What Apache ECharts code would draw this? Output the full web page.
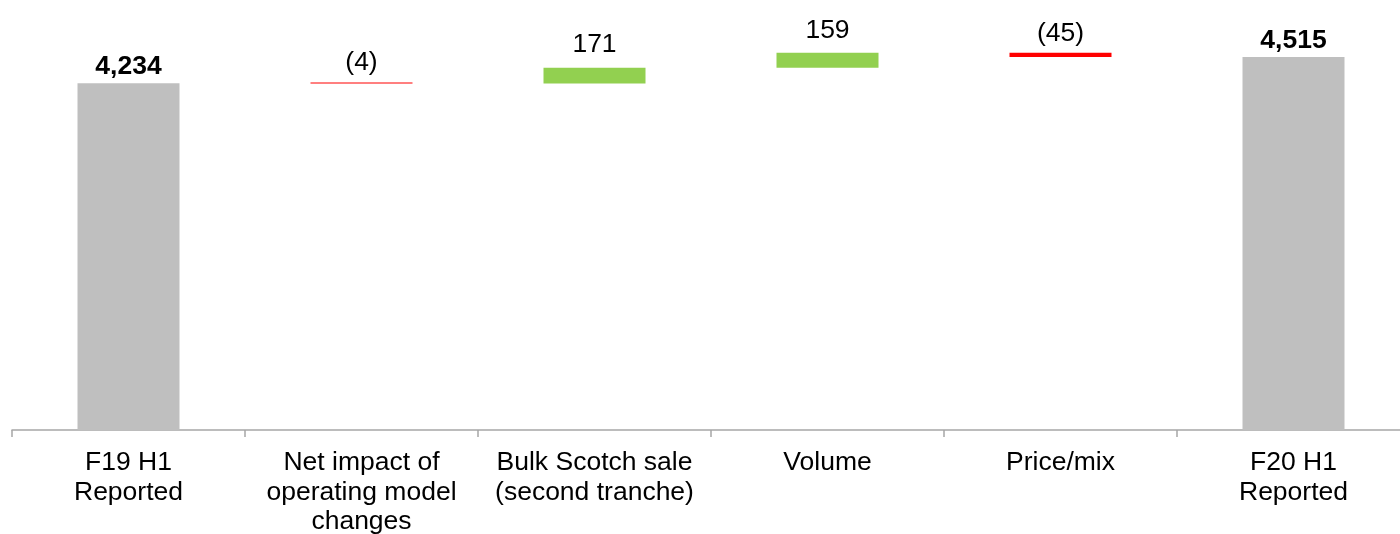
<!DOCTYPE html>
<html>
<head>
<meta charset="utf-8">
<script src="https://cdn.jsdelivr.net/npm/echarts@6/dist/echarts.min.js"></script>
<style>
  html, body { margin: 0; padding: 0; background: #fff; }
  #chart { width: 1400px; height: 534px; }
</style>
</head>
<body>
<div id="chart"></div>
<script>
// Bridge categories and movements
const categories = [
  'F19 H1\nReported',
  'Net impact of\noperating model\nchanges',
  'Bulk Scotch sale\n(second tranche)',
  'Volume',
  'Price/mix',
  'F20 H1\nReported'
];
const values = [4234, -4, 171, 159, -45, 4515];
const isTotal = [true, false, false, false, false, true];

const colorTotal = '#bfbfbf';
const colorUp = '#92d050';
const colorDown = '#ff0000';

// Build invisible base + visible segment for each step of the bridge
const base = [];
const visible = [];
let running = 0;
values.forEach((v, i) => {
  if (isTotal[i]) {
    base.push(0);
    visible.push(v);
    running = v;
  } else {
    base.push(v >= 0 ? running : running + v);
    visible.push(Math.abs(v));
    running += v;
  }
});

function fmt(v) {
  const s = Math.abs(v).toLocaleString('en-US');
  return v < 0 ? '(' + s + ')' : s;
}

function labelDistance(i) {
  if (isTotal[i]) return 3;
  return values[i] < 0 ? 6 : 9;
}

const FONT = 'Liberation Sans, Arial, sans-serif';

const chart = echarts.init(document.getElementById('chart'), null, { renderer: 'canvas' });

chart.setOption({
  animation: false,
  grid: {
    left: 12, width: 1398, top: 12, bottom: 104,
    containLabel: false,
    outerBoundsMode: 'none'
  },
  xAxis: {
    type: 'category',
    data: categories,
    axisLine: { show: true, lineStyle: { color: '#a6a6a6', width: 1.5 } },
    axisTick: { show: true, interval: 0, length: 7, lineStyle: { color: '#a6a6a6', width: 1.5 } },
    axisLabel: {
      interval: 0,
      color: '#000',
      fontFamily: FONT,
      fontSize: 26.5,
      lineHeight: 29.5,
      margin: 18,
      verticalAlign: 'top'
    }
  },
  yAxis: {
    type: 'value',
    min: 500,
    max: 5000,
    show: false,
    splitLine: { show: false }
  },
  series: [
    {
      type: 'bar',
      stack: 'bridge',
      barWidth: 102,
      itemStyle: { color: 'transparent' },
      emphasis: { disabled: true },
      data: base
    },
    {
      type: 'bar',
      stack: 'bridge',
      barWidth: 102,
      barMinHeight: 1,
      emphasis: { disabled: true },
      data: visible.map((h, i) => ({
        value: h,
        itemStyle: {
          color: isTotal[i] ? colorTotal : (values[i] >= 0 ? colorUp : colorDown)
        },
        label: {
          show: true,
          position: 'top',
          distance: labelDistance(i),
          formatter: fmt(values[i]),
          color: '#000',
          fontFamily: FONT,
          fontSize: 26.5,
          fontWeight: isTotal[i] ? 'bold' : 'normal'
        }
      }))
    }
  ]
});
</script>
</body>
</html>
